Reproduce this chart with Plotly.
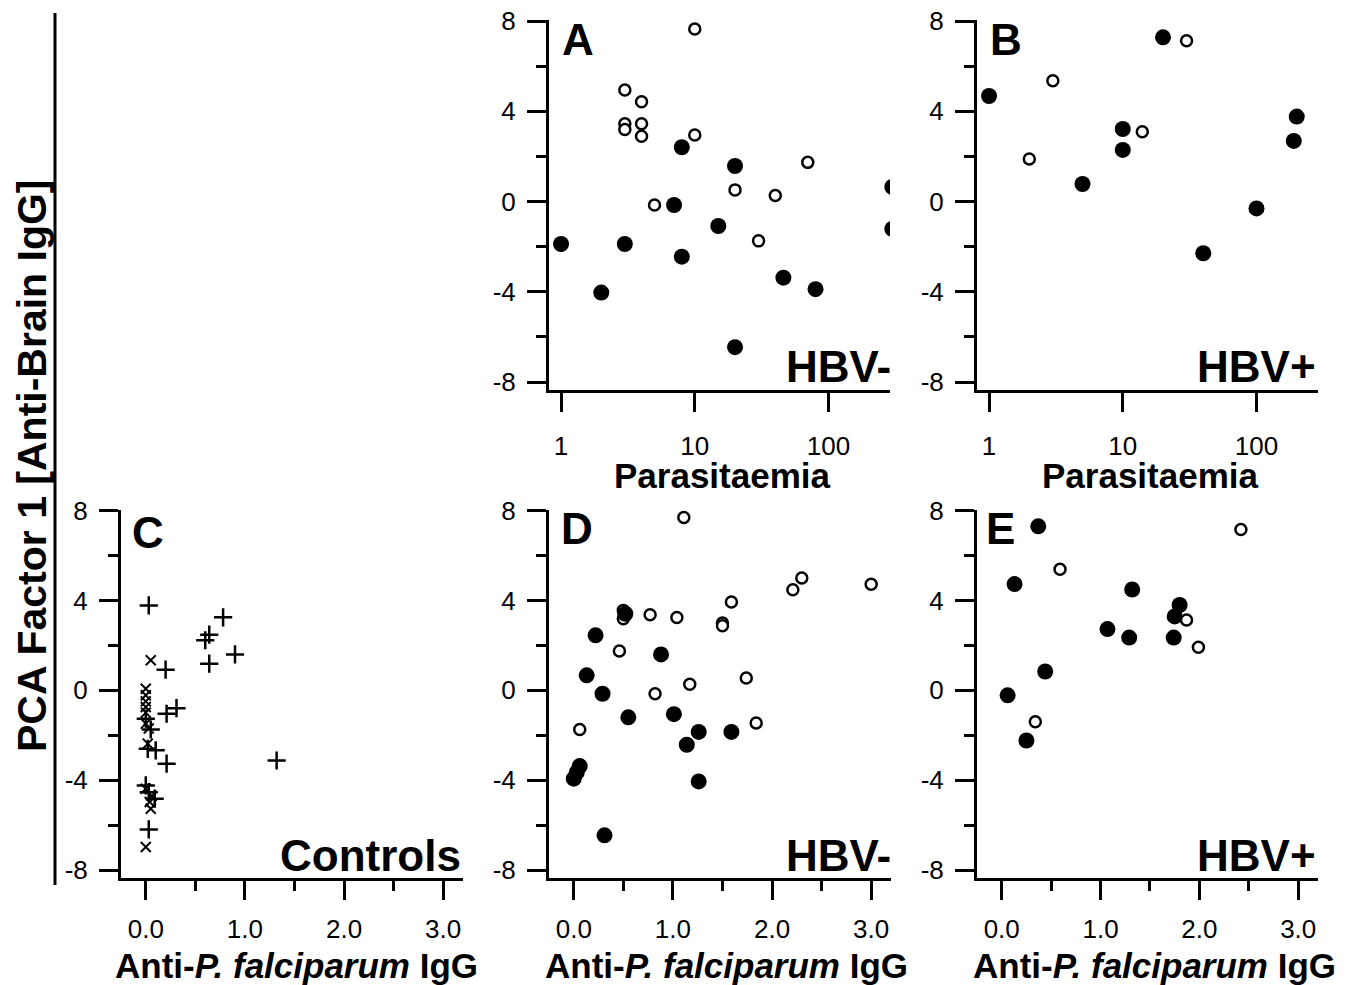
import plotly.graph_objects as go

WIDTH = 1357
HEIGHT = 985
PAGE_OFFSET = 8  # default body margin of the page
FONT = "Liberation Sans"

# Panel A: parasitaemia vs PCA factor 1, HBV-
a_filled_x = [1, 2, 3, 8, 7, 8, 15, 20, 20, 46, 80, 300, 300]
a_filled_y = [-1.88, -4.03, -1.88, 2.41, -0.15, -2.44, -1.08, 1.58, -6.45, -3.37, -3.88, 0.65, -1.21]
a_open_x = [10, 3, 4, 3, 3, 4, 4, 10, 5, 20, 40, 70, 30]
a_open_y = [7.65, 4.95, 4.43, 3.45, 3.2, 3.45, 2.9, 2.95, -0.15, 0.52, 0.27, 1.74, -1.74]

# Panel B: parasitaemia vs PCA factor 1, HBV+
b_filled_x = [1, 5, 10, 10, 20, 40, 100, 200, 190]
b_filled_y = [4.68, 0.78, 3.22, 2.29, 7.28, -2.29, -0.3, 3.77, 2.69]
b_open_x = [2, 3, 14, 30]
b_open_y = [1.89, 5.36, 3.1, 7.13]

# Panel C: controls
c_plus_x = [0.03, 0.78, 0.64, 0.60, 0.90, 0.64, 0.20, 0.31, 0.21, 0.0, 0.05, 0.02, 0.10, 0.21, 1.32,
            0.0, 0.03, 0.09, 0.03]
c_plus_y = [3.78, 3.25, 2.48, 2.23, 1.60, 1.19, 0.92, -0.79, -1.04, -1.26, -1.74, -2.6, -2.67, -3.26, -3.12,
            -4.23, -4.53, -4.82, -6.19]
c_cross_x = [0.05, 0.0, 0.0, 0.0, 0.0, 0.0, 0.0, 0.03, 0.02, 0.0, 0.06, 0.04, 0.05, 0.0]
c_cross_y = [1.34, 0.07, -0.22, -0.49, -0.74, -0.99, -1.48, -1.7, -2.37, -4.38, -4.7, -4.97, -5.27, -6.97]

# Panel D: anti-P. falciparum IgG, HBV-
d_filled_x = [0.22, 0.88, 0.13, 0.29, 0.55, 1.01, 1.26, 1.59, 1.14, 0.06, 0.03, 0.0, 1.26, 0.31, 0.52]
d_filled_y = [2.45, 1.6, 0.67, -0.15, -1.2, -1.06, -1.85, -1.85, -2.42, -3.37, -3.65, -3.93, -4.05, -6.45, 3.41]
d_open_x = [1.11, 2.30, 2.21, 3.0, 1.59, 0.5, 0.5, 0.77, 1.04, 1.5, 1.5, 0.46, 1.17, 1.74, 0.82, 1.84, 0.06]
d_open_y = [7.69, 5.0, 4.48, 4.72, 3.93, 3.56, 3.19, 3.37, 3.24, 3.0, 2.88, 1.75, 0.27, 0.55, -0.15, -1.45, -1.74]

# Panel E: anti-P. falciparum IgG, HBV+
e_filled_x = [0.37, 0.13, 1.32, 1.80, 1.75, 1.07, 1.29, 1.74, 0.44, 0.06, 0.25]
e_filled_y = [7.3, 4.73, 4.49, 3.8, 3.29, 2.73, 2.35, 2.35, 0.84, -0.22, -2.23]
e_open_x = [2.42, 0.59, 1.87, 1.99, 0.34]
e_open_y = [7.16, 5.39, 3.13, 1.92, -1.4]

Y_TICKS = [-8, -4, 0, 4, 8]
Y_TICK_TEXT = ["-8", "-4", "0", "4", "8"]
LOG_TICKS = [1, 10, 100]
LOG_TICK_TEXT = ["1", "10", "100"]
LIN_TICKS = [0, 1, 2, 3]
LIN_TICK_TEXT = ["0.0", "1.0", "2.0", "3.0"]


def px_x(value):
    return (value - PAGE_OFFSET) / WIDTH


def px_y(value):
    return 1 - (value - PAGE_OFFSET) / HEIGHT


# pixel boxes of each plot area on the page: left, right, top, bottom
PANELS = {
    "A": (549, 890, 20, 390),
    "B": (977, 1318, 20, 390),
    "C": (121, 463, 509.5, 878),
    "D": (549, 891, 509.5, 878),
    "E": (977, 1318, 509.5, 878),
}


def axis_style():
    return dict(
        automargin=False,
        showgrid=False,
        zeroline=False,
        showline=True,
        linewidth=3,
        linecolor="black",
        ticks="outside",
        ticklen=19,
        tickwidth=3,
        tickcolor="black",
        ticklabeloverflow="allow",
        tickfont=dict(family=FONT, size=26, color="black"),
    )


fig = go.Figure()

panel_data = [
    ("A", "x", "y", [(a_filled_x, a_filled_y, "filled"), (a_open_x, a_open_y, "open")]),
    ("B", "x2", "y2", [(b_filled_x, b_filled_y, "filled"), (b_open_x, b_open_y, "open")]),
    ("C", "x3", "y3", [(c_plus_x, c_plus_y, "plus"), (c_cross_x, c_cross_y, "cross")]),
    ("D", "x4", "y4", [(d_open_x, d_open_y, "open"), (d_filled_x, d_filled_y, "filled")]),
    ("E", "x5", "y5", [(e_filled_x, e_filled_y, "filled"), (e_open_x, e_open_y, "open")]),
]

MARKERS = {
    "filled": dict(symbol="circle", size=16, color="black", line=dict(width=0)),
    "open": dict(symbol="circle", size=11, color="white", line=dict(width=2.5, color="black")),
    "plus": dict(symbol="cross-thin", size=13, line=dict(width=2.5, color="black")),
    "cross": dict(symbol="x-thin", size=10, line=dict(width=2, color="black")),
}

for name, xref, yref, series in panel_data:
    for xs, ys, kind in series:
        fig.add_trace(
            go.Scatter(
                x=xs,
                y=ys,
                mode="markers",
                marker=MARKERS[kind],
                xaxis=xref,
                yaxis=yref,
                showlegend=False,
                hoverinfo="skip",
            )
        )

layout_axes = {}
for index, name in enumerate(["A", "B", "C", "D", "E"], start=1):
    left, right, top, bottom = PANELS[name]
    suffix = "" if index == 1 else str(index)
    xaxis = axis_style()
    xaxis.update(
        domain=[px_x(left), px_x(right)],
        anchor="y" + suffix,
        ticklabelstandoff=12 if name in ("A", "B") else 7,
    )
    if name in ("A", "B"):
        xaxis.update(type="log", range=[-0.09, 2.46], tickvals=LOG_TICKS, ticktext=LOG_TICK_TEXT)
    else:
        xaxis.update(
            range=[-0.25, 3.2],
            tickvals=LIN_TICKS,
            ticktext=LIN_TICK_TEXT,
            minor=dict(tickvals=[0.5, 1.5, 2.5], ticklen=10, tickwidth=3, tickcolor="black", ticks="outside"),
        )
    yaxis = axis_style()
    yaxis.update(
        domain=[px_y(bottom), px_y(top)],
        anchor="x" + suffix,
        range=[-8.35, 8.05],
        tickvals=Y_TICKS,
        ticktext=Y_TICK_TEXT,
        ticklabelstandoff=6,
        minor=dict(tickvals=[-6, -2, 2, 6], ticklen=10, tickwidth=3, tickcolor="black", ticks="outside"),
    )
    layout_axes["xaxis" + suffix] = xaxis
    layout_axes["yaxis" + suffix] = yaxis

annotations = []

# panel letters
for name, (cx, cy) in {"A": (578, 39), "B": (1006, 39), "C": (148, 532), "D": (577, 528), "E": (1001, 528)}.items():
    annotations.append(
        dict(text=f"<b>{name}</b>", x=px_x(cx), y=px_y(cy), xref="paper", yref="paper",
             xanchor="center", yanchor="middle", showarrow=False,
             font=dict(family=FONT, size=44, color="black"))
    )

# group labels
for text, rx, cy in [("HBV-", 893, 366), ("HBV+", 1318, 366), ("Controls", 463, 855),
                     ("HBV-", 893, 855), ("HBV+", 1318, 855)]:
    annotations.append(
        dict(text=f"<b>{text}</b>", x=px_x(rx), y=px_y(cy), xref="paper", yref="paper",
             xanchor="right", yanchor="middle", showarrow=False,
             font=dict(family=FONT, size=44, color="black"))
    )

# x axis titles
for cx in (722, 1150):
    annotations.append(
        dict(text="<b>Parasitaemia</b>", x=px_x(cx), y=px_y(476), xref="paper", yref="paper",
             xanchor="center", yanchor="middle", showarrow=False,
             font=dict(family=FONT, size=35, color="black"))
    )
for cx in (296, 726, 1154):
    annotations.append(
        dict(text="<b>Anti-<i>P. falciparum</i> IgG</b>", x=px_x(cx), y=px_y(965), xref="paper", yref="paper",
             xanchor="center", yanchor="middle", showarrow=False,
             font=dict(family=FONT, size=35, color="black"))
    )

# shared y axis title
annotations.append(
    dict(text="<b>PCA Factor 1 [Anti-Brain IgG]</b>", x=px_x(32), y=px_y(466), xref="paper", yref="paper",
         xanchor="center", yanchor="middle", textangle=-90, showarrow=False,
         font=dict(family=FONT, size=41, color="black"))
)

fig.update_layout(
    width=WIDTH,
    height=HEIGHT,
    margin=dict(l=0, r=0, t=0, b=0),
    paper_bgcolor="white",
    plot_bgcolor="white",
    annotations=annotations,
    shapes=[
        dict(type="line", xref="paper", yref="paper", x0=px_x(55), x1=px_x(55),
             y0=px_y(13), y1=px_y(885), line=dict(color="black", width=3)),
    ],
    **layout_axes,
)

fig.write_html("out.html")
